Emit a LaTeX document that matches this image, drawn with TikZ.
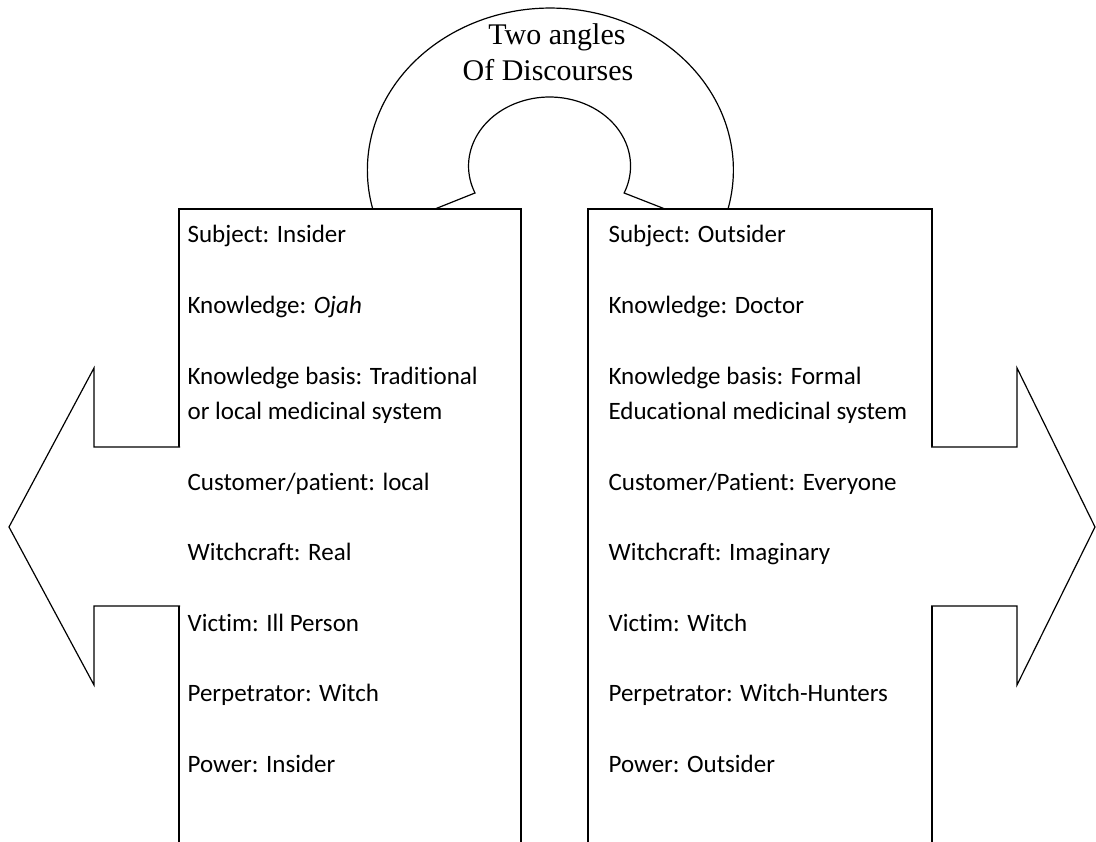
\documentclass[tikz,border=0pt]{standalone}
\usepackage{fontspec}
\newfontfamily\carlito[Ligatures=NoCommon]{Carlito}
\newfontfamily\lserif{Liberation Serif}
\begin{document}
\begin{tikzpicture}[x=1pt,y=1pt, line width=1.2pt, line join=miter,
  outline/.style={draw=black},
  blockarrow/.style={draw=black, fill=white},
  txt/.style={anchor=base west, inner sep=0pt, font=\carlito\fontsize{25}{30}\selectfont},
  ttl/.style={anchor=base, inner sep=0pt, font=\lserif\fontsize{30}{36}\selectfont}]
\useasboundingbox (0,0) rectangle (1096,842);
% open-bottom boxes
\draw[outline] (179,-3) -- (179,633) -- (521,633) -- (521,-3);
\draw[outline] (588,-3) -- (588,633) -- (932,633) -- (932,-3);
% block arrows
\draw[blockarrow] (180,395) -- (94,395) -- (94,474) -- (9,315) -- (94,157) -- (94,236) -- (180,236);
\draw[blockarrow] (931,395) -- (1017,395) -- (1017,474) -- (1095,315) -- (1017,157) -- (1017,236) -- (931,236);
% arch
\draw[outline] (435,633) -- (475,649)
  arc[start angle=203, end angle=-23, x radius=81, y radius=69]
  -- (665,633) -- (728,633)
  arc[start angle=-13.9, end angle=193.9, x radius=183, y radius=162] -- cycle;
% title
\node[ttl] (t1) at (557,797) {Two angles};
\node[ttl] (t2) at (548,761) {Of Discourses};
% left box text
\node[txt] (l1) at (187,599) {Subject: Insider};
\node[txt] (l2) at (187,528.4) {Knowledge: \textit{Ojah}};
\node[txt] (l3) at (187,457.8) {Knowledge basis: Traditional};
\node[txt] (l4) at (187,422.5) {or local medicinal system};
\node[txt] (l5) at (187,351.9) {Customer/patient: local};
\node[txt] (l6) at (187,281.3) {Witchcraft: Real};
\node[txt] (l7) at (187,210.7) {Victim: Ill Person};
\node[txt] (l8) at (187,140.1) {Perpetrator: Witch};
\node[txt] (l9) at (187,69.5) {Power: Insider};
% right box text
\node[txt] (r1) at (608,599) {Subject: Outsider};
\node[txt] (r2) at (608,528.4) {Knowledge: Doctor};
\node[txt] (r3) at (608,457.8) {Knowledge basis: Formal};
\node[txt] (r4) at (608,422.5) {Educational medicinal system};
\node[txt] (r5) at (608,351.9) {Customer/Patient: Everyone};
\node[txt] (r6) at (608,281.3) {Witchcraft: Imaginary};
\node[txt] (r7) at (608,210.7) {Victim: Witch};
\node[txt] (r8) at (608,140.1) {Perpetrator: Witch-Hunters};
\node[txt] (r9) at (608,69.5) {Power: Outsider};
\end{tikzpicture}
\end{document}
